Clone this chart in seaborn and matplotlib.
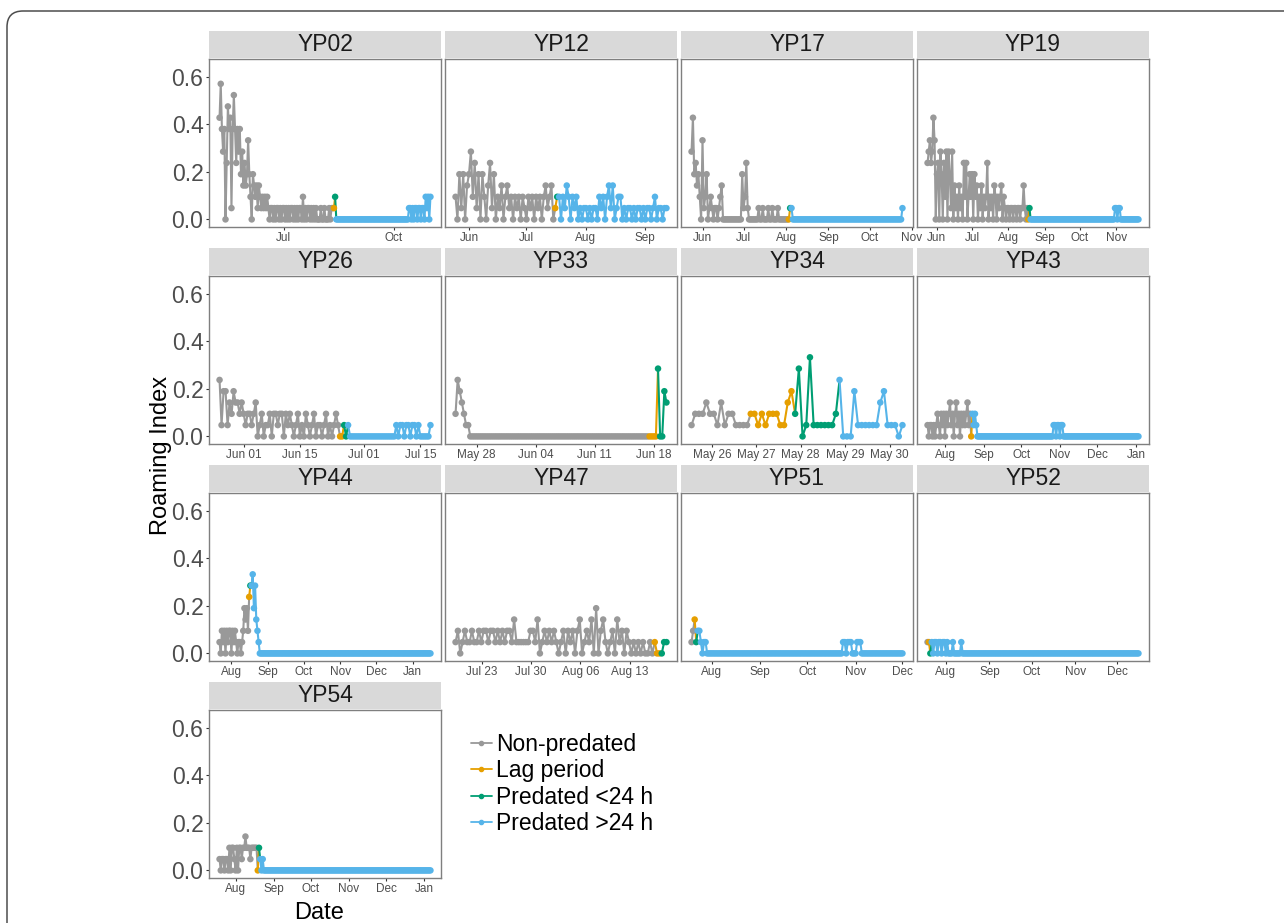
import numpy as np
import pandas as pd
import matplotlib
matplotlib.use("Agg")
import matplotlib.pyplot as plt
import matplotlib.dates as mdates
from matplotlib.patches import Rectangle, FancyBboxPatch
from matplotlib.lines import Line2D
from matplotlib.transforms import IdentityTransform
import seaborn as sns

#=====================
# DATA
#=====================
phase_names = ["Non-predated", "Lag period", "Predated <24 h", "Predated >24 h"]
phase_colors = ["#999999", "#E69F00", "#009E73", "#56B4E9"]

# roaming index = grid cells visited / 21, values below are cell counts
n_cells = 21

bird_order = ["YP02", "YP12", "YP17", "YP19", "YP26", "YP33", "YP34",
              "YP43", "YP44", "YP47", "YP51", "YP52", "YP54"]

# --- YP02 (daily) ---
yp02_start, yp02_step = "2016-05-08", 24
yp02_non = [9, 12, 8, 6, 8, 0, 5, 10, 8, 9,
            1, 8, 11, 8, 5, 8, 6, 8, 4, 6,
            3, 5, 3, 4, 7, 4, 2, 0, 4, 3,
            2, 3, 1, 3, 2, 1, 2, 1, 2, 1,
            2, 1, 0, 1, 1, 0, 1, 0, 1, 1,
            0, 1, 0, 1, 1, 0, 1, 0, 1, 0,
            1, 1, 0, 1, 0, 1, 0, 1, 1, 0,
            2, 0, 1, 0, 1, 1, 0, 1, 0, 1,
            0, 1, 0, 0, 0, 1, 0, 0, 1, 0,
            0, 0, 1, 0, 1, 1]
yp02_lag = [1]
yp02_p24 = [2]
yp02_post = [0, 0, 0, 0, 0, 0, 0, 0, 0, 0,
             0, 0, 0, 0, 0, 0, 0, 0, 0, 0,
             0, 0, 0, 0, 0, 0, 0, 0, 0, 0,
             0, 0, 0, 0, 0, 0, 0, 0, 0, 0,
             0, 0, 0, 0, 0, 0, 0, 0, 0, 0,
             0, 0, 0, 0, 0, 0, 0, 0, 0, 0,
             0,
             1, 1, 0, 1, 0, 1, 1, 0, 1, 1, 0, 1, 1, 0, 2, 1, 2, 0, 2]
yp02_ticks = ["2016-07-01", "2016-10-01"]

# --- YP12 (daily) ---
yp12_start, yp12_step = "2016-05-25", 24
yp12_non = [2, 0, 4, 1, 4, 0, 3, 4, 6, 2,
            5, 1, 4, 0, 4, 2, 0, 3, 5, 1,
            4, 0, 2, 1, 3, 0, 2, 3, 1, 2,
            0, 2, 1, 2, 0, 2, 1, 0, 2, 1,
            2, 0, 2, 1, 2, 0, 2, 3, 1, 2,
            3, 0]
yp12_lag = [1]
yp12_p24 = [2]
yp12_post = [2, 0, 2, 1, 3, 2, 0, 2, 1, 2,
             0, 1, 0, 1, 1, 0, 1, 0, 1, 1,
             0, 2, 1, 2, 0, 2, 3, 1, 3, 0,
             1, 2, 2, 0, 1, 0, 1, 1, 0, 1,
             0, 1, 1, 0, 1, 0, 1, 1, 0, 1,
             2, 0, 1, 1, 0, 1, 1]
yp12_ticks = ["2016-06-01", "2016-07-01", "2016-08-01", "2016-09-01"]

# --- YP17 (daily) ---
yp17_start, yp17_step = "2016-05-24", 24
yp17_non = [6, 9, 4, 5, 3, 4, 2, 0, 7, 1,
            2, 4, 0, 1, 2, 1, 0, 1, 1, 0,
            1, 2, 3, 0, 0, 0, 0, 0, 0, 0,
            0, 0, 0, 0, 0, 0, 0, 4, 1, 2,
            5, 1, 0, 0, 0, 0, 0, 0, 0, 1,
            0, 0, 1, 0, 0, 0, 1, 0, 0, 1,
            0, 0, 0, 1, 0, 0, 0, 0, 0, 0,
            0]
yp17_lag = [0]
yp17_p24 = [1]
yp17_post = [1,
             0, 0, 0, 0, 0, 0, 0, 0, 0, 0,
             0, 0, 0, 0, 0, 0, 0, 0, 0, 0,
             0, 0, 0, 0, 0, 0, 0, 0, 0, 0,
             0, 0, 0, 0, 0, 0, 0, 0, 0, 0,
             0, 0, 0, 0, 0, 0, 0, 0, 0, 0,
             0, 0, 0, 0, 0, 0, 0, 0, 0, 0,
             0, 0, 0, 0, 0, 0, 0, 0, 0, 0,
             0, 0, 0, 0, 0, 0, 0, 0, 0, 0,
             1]
yp17_ticks = ["2016-06-01", "2016-07-01", "2016-08-01", "2016-09-01",
              "2016-10-01", "2016-11-01"]

# --- YP19 (daily) ---
yp19_start, yp19_step = "2016-05-24", 24
yp19_non = [5, 6, 7, 5, 6, 9, 7, 0, 4, 5,
            0, 6, 4, 0, 5, 2, 6, 0, 6, 4,
            1, 6, 0, 3, 1, 2, 0, 3, 1, 2,
            0, 5, 2, 5, 0, 2, 4, 2, 4, 0,
            4, 2, 3, 0, 2, 1, 3, 0, 2, 1,
            2, 5, 0, 2, 1, 2, 0, 3, 2, 0,
            2, 1, 2, 3, 0, 2, 1, 0, 1, 1,
            0, 1, 1, 0, 1, 1, 0, 1, 1, 0,
            1, 1, 3, 1, 0, 1]
yp19_lag = [0]
yp19_p24 = [1]
yp19_post = [0, 0, 0, 0, 0, 0, 0, 0, 0, 0,
             0, 0, 0, 0, 0, 0, 0, 0, 0, 0,
             0, 0, 0, 0, 0, 0, 0, 0, 0, 0,
             0, 0, 0, 0, 0, 0, 0, 0, 0, 0,
             0, 0, 0, 0, 0, 0, 0, 0, 0, 0,
             0, 0, 0, 0, 0, 0, 0, 0, 0, 0,
             0, 0, 0, 0, 0, 0, 0, 0, 0, 0,
             0, 0,
             1, 1, 0, 1, 1,
             0, 0, 0, 0, 0, 0, 0, 0, 0, 0,
             0, 0, 0, 0, 0, 0]
yp19_ticks = yp17_ticks

# --- YP26 (12 h) ---
yp26_start, yp26_step = "2016-05-26", 12
yp26_non = [5, 1, 4, 4, 1, 3, 2, 4, 3, 3,
            2, 3, 2, 1, 2, 2, 1, 2, 3, 0,
            1, 2, 0, 1, 1, 2, 0, 2, 2, 1,
            2, 2, 0, 2, 1, 2, 1, 0, 1, 2,
            0, 1, 0, 2, 1, 0, 1, 2, 0, 1,
            1, 0, 1, 2, 0, 1, 0, 1, 2, 1]
yp26_lag = [0, 0]
yp26_p24 = [1, 0]
yp26_post = [1,
             0, 0, 0, 0, 0, 0, 0, 0, 0, 0,
             0, 0, 0, 0, 0, 0, 0, 0, 0, 0,
             0, 0, 0,
             1, 0, 1, 1, 0, 1, 1, 0, 1, 1, 0, 1,
             0, 0, 0, 0, 0,
             1]
yp26_ticks = ["2016-06-01", "2016-06-15", "2016-07-01", "2016-07-15"]

# --- YP33 (6 h) ---
yp33_start, yp33_step = "2016-05-25 12:00", 6
yp33_non = [2, 5, 4, 3, 2, 1, 1,
            0, 0, 0, 0, 0, 0, 0, 0, 0, 0,
            0, 0, 0, 0, 0, 0, 0, 0, 0, 0,
            0, 0, 0, 0, 0, 0, 0, 0, 0, 0,
            0, 0, 0, 0, 0, 0, 0, 0, 0, 0,
            0, 0, 0, 0, 0, 0, 0, 0, 0, 0,
            0, 0, 0, 0, 0, 0, 0, 0, 0, 0,
            0, 0, 0, 0, 0, 0, 0, 0, 0, 0,
            0, 0, 0, 0, 0, 0, 0, 0, 0, 0,
            0, 0, 0, 0, 0]
yp33_lag = [0, 0, 0, 0]
yp33_p24 = [6, 0, 0, 4, 3]
yp33_post = []
yp33_ticks = ["2016-05-28", "2016-06-04", "2016-06-11", "2016-06-18"]

# --- YP34 (2 h) ---
yp34_start, yp34_step = "2016-05-25 13:00", 2
yp34_non = [1, 2, 2, 2, 3, 2, 2, 1, 3, 1, 2, 2, 1, 1, 1, 1]
yp34_lag = [2, 2, 1, 2, 1, 2, 2, 2, 1, 1, 3, 4]
yp34_p24 = [2, 6, 0, 1, 7, 1, 1, 1, 1, 1, 1, 2]
yp34_post = [5, 0, 0, 0, 4, 1, 1, 1, 1, 1, 1, 3, 4, 1, 1, 1, 0, 1]
yp34_ticks = ["2016-05-26", "2016-05-27", "2016-05-28", "2016-05-29", "2016-05-30"]

# --- YP43 (daily) ---
yp43_start, yp43_step = "2016-07-18", 24
yp43_non = [1, 0, 1, 1, 0, 1, 0, 1, 2, 1,
            0, 2, 1, 2, 0, 2, 1, 2, 3, 1,
            2, 0, 2, 3, 1, 2, 0, 2, 1, 2,
            1, 2, 3, 1, 2]
yp43_lag = [0]
yp43_p24 = []
yp43_post = [2, 1, 2, 1,
             0, 0, 0, 0, 0, 0, 0, 0, 0, 0,
             0, 0, 0, 0, 0, 0, 0, 0, 0, 0,
             0, 0, 0, 0, 0, 0, 0, 0, 0, 0,
             0, 0, 0, 0, 0, 0, 0, 0, 0, 0,
             0, 0, 0, 0, 0, 0, 0, 0, 0, 0,
             0, 0, 0, 0, 0, 0, 0, 0, 0, 0,
             0,
             1, 1, 0, 1, 1, 0, 1, 1,
             0, 0, 0, 0, 0, 0, 0, 0, 0, 0,
             0, 0, 0, 0, 0, 0, 0, 0, 0, 0,
             0, 0, 0, 0, 0, 0, 0, 0, 0, 0,
             0, 0, 0, 0, 0, 0, 0, 0, 0, 0,
             0, 0, 0, 0, 0, 0, 0, 0, 0, 0,
             0, 0, 0, 0, 0, 0, 0, 0, 0, 0,
             0]
yp43_ticks = ["2016-08-01", "2016-09-01", "2016-10-01", "2016-11-01",
              "2016-12-01", "2017-01-01"]

# --- YP44 (daily) ---
yp44_start, yp44_step = "2016-07-22", 24
yp44_non = [1, 0, 2, 1, 2, 0, 2, 1, 2, 2,
            0, 2, 1, 2, 1, 0, 1, 1, 0, 1,
            2, 4, 3, 4, 2]
yp44_lag = [5]
yp44_p24 = [6]
yp44_post = [6, 7, 4, 6, 3, 2, 1,
             0, 0, 0, 0, 0, 0, 0, 0, 0, 0,
             0, 0, 0, 0, 0, 0, 0, 0, 0, 0,
             0, 0, 0, 0, 0, 0, 0, 0, 0, 0,
             0, 0, 0, 0, 0, 0, 0, 0, 0, 0,
             0, 0, 0, 0, 0, 0, 0, 0, 0, 0,
             0, 0, 0, 0, 0, 0, 0, 0, 0, 0,
             0, 0, 0, 0, 0, 0, 0, 0, 0, 0,
             0, 0, 0, 0, 0, 0, 0, 0, 0, 0,
             0, 0, 0, 0, 0, 0, 0, 0, 0, 0,
             0, 0, 0, 0, 0, 0, 0, 0, 0, 0,
             0, 0, 0, 0, 0, 0, 0, 0, 0, 0,
             0, 0, 0, 0, 0, 0, 0, 0, 0, 0,
             0, 0, 0, 0, 0, 0, 0, 0, 0, 0,
             0, 0, 0, 0, 0, 0, 0, 0, 0, 0,
             0, 0, 0, 0, 0]
yp44_ticks = yp43_ticks

# --- YP47 (8 h) ---
yp47_start, yp47_step = "2016-07-19 06:00", 8
yp47_non = [1, 2, 0, 1, 2, 1, 1, 2, 1, 1,
            2, 1, 2, 2, 1, 2, 2, 1, 2, 1,
            2, 1, 2, 2, 1, 3, 1, 1, 1, 1,
            1, 1, 2, 2, 1, 3, 0, 1, 2, 1,
            2, 1, 2, 1, 0, 1, 2, 0, 2, 1,
            2, 0, 2, 3, 0, 1, 2, 1, 3, 0,
            4, 0, 2, 3, 1, 0, 1, 2, 0, 3,
            1, 2, 0, 2, 1, 0, 1, 0, 1, 0,
            1, 0, 0, 1, 0]
yp47_lag = [1, 0, 0]
yp47_p24 = [0, 1, 1]
yp47_post = []
yp47_ticks = ["2016-07-23", "2016-07-30", "2016-08-06", "2016-08-13"]

# --- YP51 (daily) ---
yp51_start, yp51_step = "2016-07-19", 24
yp51_non = [1, 2]
yp51_lag = [3]
yp51_p24 = [1]
yp51_post = [2, 2, 1, 0, 1, 1,
             0, 0, 0, 0, 0, 0, 0, 0, 0, 0,
             0, 0, 0, 0, 0, 0, 0, 0, 0, 0,
             0, 0, 0, 0, 0, 0, 0, 0, 0, 0,
             0, 0, 0, 0, 0, 0, 0, 0, 0, 0,
             0, 0, 0, 0, 0, 0, 0, 0, 0, 0,
             0, 0, 0, 0, 0, 0, 0, 0, 0, 0,
             0, 0, 0, 0, 0, 0, 0, 0, 0, 0,
             0, 0, 0, 0, 0, 0, 0, 0, 0, 0,
             0, 0, 0, 0, 0, 0, 0,
             1, 1, 0, 1, 1, 1, 0, 0, 0, 1, 1, 1,
             0, 0, 0, 0, 0, 0, 0, 0, 0, 0,
             0, 0, 0, 0, 0, 0, 0, 0, 0, 0,
             0, 0, 0, 0, 0, 0, 0]
yp51_ticks = ["2016-08-01", "2016-09-01", "2016-10-01", "2016-11-01", "2016-12-01"]

# --- YP52 (daily) ---
yp52_start, yp52_step = "2016-07-19", 24
yp52_non = [1]
yp52_lag = [1]
yp52_p24 = [0]
yp52_post = [1, 0, 1, 1, 0, 1, 1, 0, 1, 1, 0, 1,
             0, 0, 0, 1, 0, 0, 0, 0, 0, 1,
             0, 0, 0, 0, 0, 0, 0, 0, 0, 0,
             0, 0, 0, 0, 0, 0, 0, 0, 0, 0,
             0, 0, 0, 0, 0, 0, 0, 0, 0, 0,
             0, 0, 0, 0, 0, 0, 0, 0, 0, 0,
             0, 0, 0, 0, 0, 0, 0, 0, 0, 0,
             0, 0, 0, 0, 0, 0, 0, 0, 0, 0,
             0, 0, 0, 0, 0, 0, 0, 0, 0, 0,
             0, 0, 0, 0, 0, 0, 0, 0, 0, 0,
             0, 0, 0, 0, 0, 0, 0, 0, 0, 0,
             0, 0, 0, 0, 0, 0, 0, 0, 0, 0,
             0, 0, 0, 0, 0, 0, 0, 0, 0, 0,
             0, 0, 0, 0, 0, 0, 0, 0, 0, 0,
             0, 0, 0, 0, 0, 0]
yp52_ticks = yp51_ticks

# --- YP54 (daily) ---
yp54_start, yp54_step = "2016-07-19", 24
yp54_non = [1, 0, 1, 1, 0, 1, 1, 0, 2, 0,
            2, 2, 1, 0, 2, 0, 2, 2, 1, 2,
            2, 3, 2, 2, 2, 1, 2, 2, 2, 2,
            2]
yp54_lag = [0]
yp54_p24 = [2]
yp54_post = [1, 0, 1,
             0, 0, 0, 0, 0, 0, 0, 0, 0, 0,
             0, 0, 0, 0, 0, 0, 0, 0, 0, 0,
             0, 0, 0, 0, 0, 0, 0, 0, 0, 0,
             0, 0, 0, 0, 0, 0, 0, 0, 0, 0,
             0, 0, 0, 0, 0, 0, 0, 0, 0, 0,
             0, 0, 0, 0, 0, 0, 0, 0, 0, 0,
             0, 0, 0, 0, 0, 0, 0, 0, 0, 0,
             0, 0, 0, 0, 0, 0, 0, 0, 0, 0,
             0, 0, 0, 0, 0, 0, 0, 0, 0, 0,
             0, 0, 0, 0, 0, 0, 0, 0, 0, 0,
             0, 0, 0, 0, 0, 0, 0, 0, 0, 0,
             0, 0, 0, 0, 0, 0, 0, 0, 0, 0,
             0, 0, 0, 0, 0, 0, 0, 0, 0, 0,
             0, 0, 0, 0, 0, 0]
yp54_ticks = yp43_ticks

birds = {
    "YP02": (yp02_start, yp02_step, [yp02_non, yp02_lag, yp02_p24, yp02_post], yp02_ticks, "%b"),
    "YP12": (yp12_start, yp12_step, [yp12_non, yp12_lag, yp12_p24, yp12_post], yp12_ticks, "%b"),
    "YP17": (yp17_start, yp17_step, [yp17_non, yp17_lag, yp17_p24, yp17_post], yp17_ticks, "%b"),
    "YP19": (yp19_start, yp19_step, [yp19_non, yp19_lag, yp19_p24, yp19_post], yp19_ticks, "%b"),
    "YP26": (yp26_start, yp26_step, [yp26_non, yp26_lag, yp26_p24, yp26_post], yp26_ticks, "%b %d"),
    "YP33": (yp33_start, yp33_step, [yp33_non, yp33_lag, yp33_p24, yp33_post], yp33_ticks, "%b %d"),
    "YP34": (yp34_start, yp34_step, [yp34_non, yp34_lag, yp34_p24, yp34_post], yp34_ticks, "%b %d"),
    "YP43": (yp43_start, yp43_step, [yp43_non, yp43_lag, yp43_p24, yp43_post], yp43_ticks, "%b"),
    "YP44": (yp44_start, yp44_step, [yp44_non, yp44_lag, yp44_p24, yp44_post], yp44_ticks, "%b"),
    "YP47": (yp47_start, yp47_step, [yp47_non, yp47_lag, yp47_p24, yp47_post], yp47_ticks, "%b %d"),
    "YP51": (yp51_start, yp51_step, [yp51_non, yp51_lag, yp51_p24, yp51_post], yp51_ticks, "%b"),
    "YP52": (yp52_start, yp52_step, [yp52_non, yp52_lag, yp52_p24, yp52_post], yp52_ticks, "%b"),
    "YP54": (yp54_start, yp54_step, [yp54_non, yp54_lag, yp54_p24, yp54_post], yp54_ticks, "%b"),
}


#=====================
# BUILD FRAMES
#=====================
def build_frame(start, step_h, parts):
    t0 = pd.Timestamp(start)
    rows = []
    i = 0
    for name, vals in zip(phase_names, parts):
        for v in vals:
            rows.append((t0 + pd.Timedelta(hours=step_h * i), v / n_cells, name))
            i += 1
    return pd.DataFrame(rows, columns=["time", "ri", "phase"])


#=====================
# PLOT
#=====================
sns.set_theme(style="white")
plt.rcParams["font.family"] = ["Liberation Sans", "DejaVu Sans"]

W, H = 1284, 923
fig = plt.figure(figsize=(W / 100, H / 100), dpi=100, facecolor="white")

col_left = [209, 445, 681, 917]
row_top = [59, 276, 493, 710]
panel_w, panel_h, strip_h = 232, 168, 28
palette = dict(zip(phase_names, phase_colors))

for n, bird in enumerate(bird_order):
    r, c = divmod(n, 4)
    ax = fig.add_axes([col_left[c] / W, 1 - (row_top[r] + panel_h) / H,
                       panel_w / W, panel_h / H])
    start, step_h, parts, ticks, fmt = birds[bird]
    df = build_frame(start, step_h, parts)

    # lines: each segment takes the colour of its starting point
    for ph in phase_names:
        idx = np.where(df["phase"].values == ph)[0]
        if len(idx) == 0:
            continue
        seg = df.iloc[idx[0]:min(idx[-1] + 2, len(df))]
        sns.lineplot(data=seg, x="time", y="ri", color=palette[ph], linewidth=1.5,
                     estimator=None, sort=False, errorbar=None, legend=False, ax=ax)
    sns.scatterplot(data=df, x="time", y="ri", hue="phase", hue_order=phase_names,
                    palette=palette, s=22, linewidth=0, legend=False, ax=ax, zorder=3)

    # x scale like ggplot: 5% expansion each side
    t_lo = mdates.date2num(df["time"].min())
    t_hi = mdates.date2num(df["time"].max())
    pad = 0.05 * (t_hi - t_lo)
    ax.set_xlim(t_lo - pad, t_hi + pad)
    ax.set_xticks(mdates.date2num(pd.to_datetime(ticks)))
    ax.xaxis.set_major_formatter(mdates.DateFormatter(fmt))
    ax.set_ylim(-0.032, 0.676)
    ax.set_yticks([0, 0.2, 0.4, 0.6])
    ax.set_yticklabels(["0.0", "0.2", "0.4", "0.6"])
    ax.set_xlabel("")
    ax.set_ylabel("")
    ax.grid(False)
    ax.set_facecolor("white")

    ax.tick_params(axis="x", bottom=True, length=2.5, width=0.8, color="#333333",
                   labelsize=8.5, labelcolor="#4D4D4D", pad=1)
    if c == 0:
        ax.tick_params(axis="y", left=True, length=2.5, width=0.8, color="#333333",
                       labelsize=16.5, labelcolor="#4D4D4D", pad=1.5)
    else:
        ax.tick_params(axis="y", left=False, labelleft=False)

    for sp in ax.spines.values():
        sp.set_visible(True)
        sp.set_color("#7F7F7F")
        sp.set_linewidth(1.0)

    # facet strip
    ax.add_patch(Rectangle((0, 1 + 1 / panel_h), 1, (strip_h - 1) / panel_h,
                           transform=ax.transAxes, clip_on=False,
                           facecolor="#D9D9D9", edgecolor="none"))
    ax.text(0.5, 1 + (strip_h / 2 + 0.5) / panel_h, bird, transform=ax.transAxes,
            ha="center", va="center", fontsize=16.5, color="#1A1A1A")

# axis titles
fig.text(161 / W, 1 - 455 / H, "Roaming Index", rotation=90, ha="center",
         va="center", fontsize=17, color="black")
fig.text(319 / W, 1 - 913 / H, "Date", ha="center", va="center",
         fontsize=17, color="black")

# legend
handles = [Line2D([0], [0], color=col, lw=1.3, marker="o", markersize=3)
           for col in phase_colors]
leg = fig.legend(handles, phase_names, loc="upper left",
                 bbox_to_anchor=(471 / W, 1 - 733 / H), frameon=False, fontsize=16.5,
                 handlelength=0.9, handletextpad=0.2, labelspacing=0.15,
                 borderpad=0, borderaxespad=0)
for txt in leg.get_texts():
    txt.set_color("black")

# outer rounded frame
frame = FancyBboxPatch((7, -30), 1330, H - 11 + 30,
                       boxstyle="round,pad=0,rounding_size=16",
                       transform=IdentityTransform(), fill=False,
                       edgecolor="#4D4D4D", linewidth=1.1)
fig.add_artist(frame)

fig.savefig("out.png", dpi=100, facecolor="white")
